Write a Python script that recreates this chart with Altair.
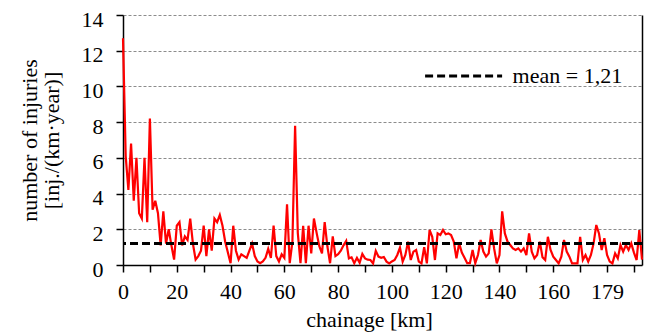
import altair as alt
import pandas as pd

# ---- data ----
km = list(range(194))
injuries = [
    12.7, 6.1, 4.2, 6.8, 3.6, 6.0, 2.9, 2.6, 6.0, 2.4,
    8.2, 3.1, 3.6, 2.9, 1.1, 3.0, 1.2, 2.0, 1.1, 0.3,
    2.2, 2.4, 1.1, 1.6, 1.4, 2.6, 1.2, 0.3, 0.5, 0.8,
    2.2, 0.5, 2.0, 0.8, 2.6, 2.4, 2.8, 2.2, 1.3, 0.7,
    0.1, 2.2, 0.8, 0.3, 0.6, 0.5, 0.4, 0.8, 1.2, 0.5,
    0.2, 0.1, 0.2, 0.4, 0.9, 0.4, 2.2, 0.5, 0.2, 0.6,
    0.4, 3.4, 0.1, 1.3, 7.8, 1.8, 0.1, 2.2, 0.1, 2.2,
    0.65, 2.6, 1.8, 1.05, 0.65, 2.4, 1.05, 0.1, 1.6, 0.5,
    0.6, 0.8, 1.1, 1.35, 0.37, 0.43, 0.1, 0.4, 0.13, 0.62,
    0.37, 0.3, 0.28, 0.09, 0.79, 0.47, 0.4, 0.45, 0.19, 0.09,
    0.2, 0.28, 0.56, 0.97, 0.19, 0.56, 1.31, 0.28, 0.75, 0.84,
    0.19, 0.09, 1.0, 0.09, 1.96, 1.58, 0.28, 1.77, 1.68, 1.96,
    1.72, 1.77, 1.68, 1.31, 0.37, 1.21, 0.7, 0.4, 0.1, 0.1,
    0.84, 0.1, 0.56, 1.4, 0.75, 0.47, 0.65, 2.0, 0.93, 0.09,
    0.56, 3.0, 1.77, 1.31, 1.12, 0.93, 0.84, 0.93, 0.75, 0.93,
    0.55, 1.77, 0.75, 0.37, 0.56, 1.31, 0.43, 0.28, 1.58, 0.84,
    0.47, 0.28, 0.09, 0.47, 1.4, 0.75, 0.47, 0.09, 0.09, 0.09,
    1.58, 0.28, 0.56, 0.19, 0.56, 1.21, 2.24, 1.77, 0.84, 1.5,
    0.56, 0.19, 0.09, 0.65, 0.37, 1.12, 0.75, 1.12, 0.84, 1.21,
    0.69, 0.28, 1.96, 0.3,
]
mean_value = [1.21]
mean_label = ["mean = 1,21"]
x_ticks = list(range(0, 191, 10))
y_ticks = [0, 2, 4, 6, 8, 10, 12, 14]

FONT = "Liberation Serif, Times New Roman, serif"
W, H = 519, 250

df = pd.DataFrame({"km": km, "inj": injuries})
mean_df = pd.DataFrame({"series": mean_label, "value": mean_value})

x_enc = alt.X(
    "km:Q",
    scale=alt.Scale(domain=[0, 193], nice=False, zero=False),
    axis=alt.Axis(
        title="chainage [km]",
        values=x_ticks,
        labelExpr="datum.value % 20 == 0 ? (datum.value == 180 ? '179' : datum.label) : ''",
        grid=False,
        tickSize=7,
        labelBaseline="alphabetic",
        labelPadding=26,
        labelFlush=False,
        labelOverlap=False,
        labelFont=FONT,
        titleFont=FONT,
        titleX=246,
        titleY=61,
        titleBaseline="alphabetic",
    ),
)
y_scale = alt.Scale(domain=[0, 14], nice=False)
y_axis_left = alt.Axis(
    orient="left",
    title=["number of injuries", "[inj./(km·year)]"],
    values=y_ticks,
    grid=True,
    gridDash=[3, 2],
    gridColor="#8c8c8c",
    gridWidth=1,
    tickSize=7,
    labelPadding=13,
    labelOffset=4,
    labelOverlap=False,
    labelFlush=False,
    labelFont=FONT,
    titleFont=FONT,
    titlePadding=18,
    titleLineHeight=22,
)
y_axis_right = alt.Axis(
    orient="right",
    title=None,
    labels=False,
    ticks=False,
    grid=False,
    domainColor="#000000",
    domainWidth=1.5,
)

line = alt.Chart(df).mark_line(color="#FF0000", strokeWidth=2.2).encode(
    x=x_enc, y=alt.Y("inj:Q", scale=y_scale, axis=y_axis_left)
)

mean_rule = alt.Chart(mean_df).mark_rule(strokeDash=[8, 4], strokeWidth=3).encode(
    y=alt.Y("value:Q", scale=y_scale, axis=y_axis_right),
    color=alt.Color(
        "series:N",
        scale=alt.Scale(range=["#000000"]),
        legend=alt.Legend(
            title=None,
            orient="none",
            legendX=300.6,
            legendY=21,
            symbolType="stroke",
            symbolSize=5929,
            symbolStrokeWidth=3,
            symbolDash=[8, 4],
            symbolStrokeColor="#000000",
            labelFont=FONT,
            labelFontSize=22,
            labelColor="#000000",
            labelOffset=9,
            padding=0,
        ),
    ),
)

chart = (
    alt.layer(line, mean_rule)
    .resolve_axis(y="independent")
    .properties(
        width=W,
        height=H,
        autosize=alt.AutoSizeParams(type="none"),
        padding={"left": 123, "top": 15, "right": 4, "bottom": 70},
        background="white",
    )
    .configure(font=FONT)
    .configure_view(stroke=None)
    .configure_axis(
        domainColor="#000000",
        domainWidth=1.5,
        tickColor="#000000",
        tickWidth=1.5,
        labelColor="#000000",
        titleColor="#000000",
        labelFont=FONT,
        titleFont=FONT,
        labelFontSize=22,
        titleFontSize=22,
        titleFontWeight="normal",
    )
)

chart.save("out.html", embed_options={"renderer": "svg", "actions": False})
